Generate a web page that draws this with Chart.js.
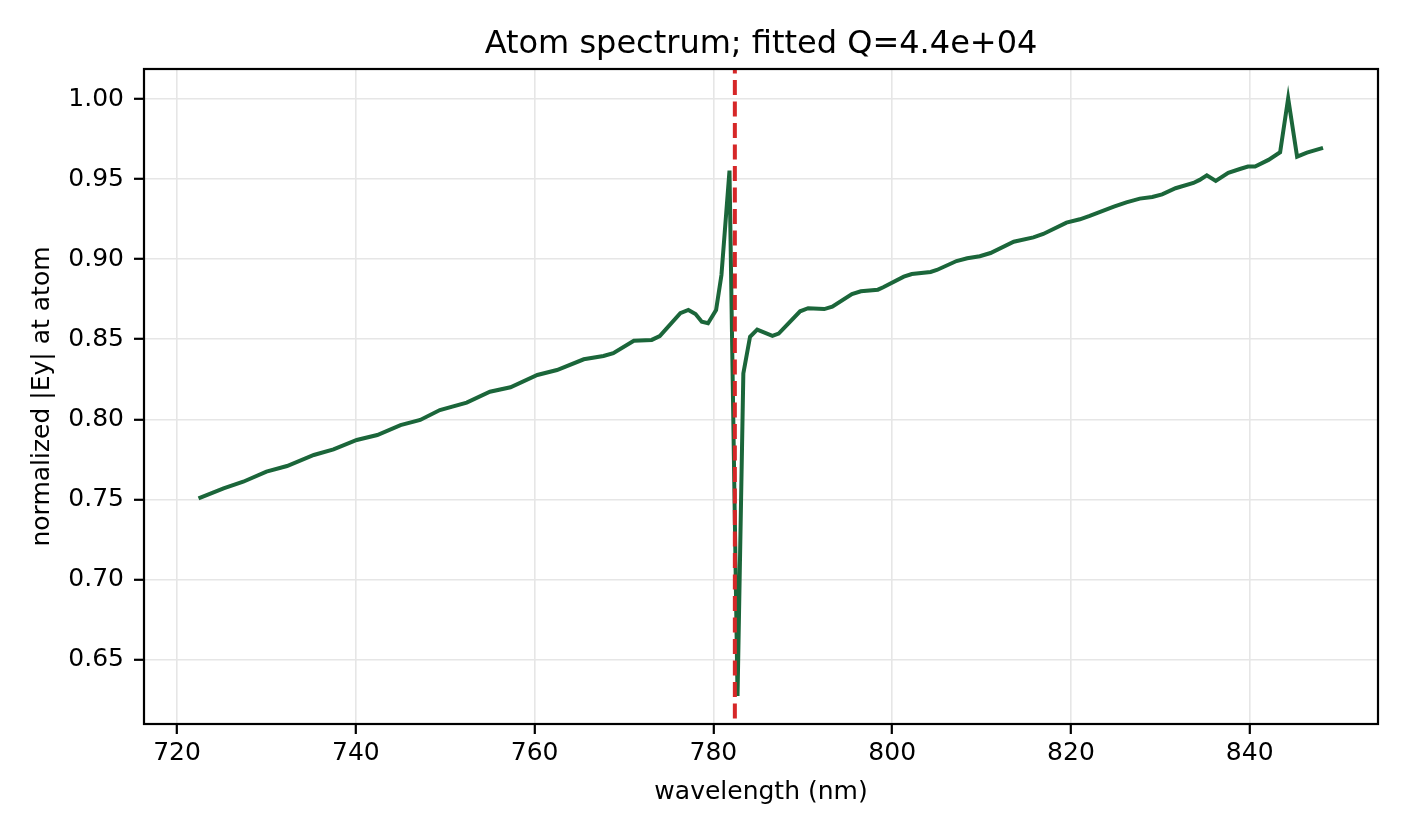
<!DOCTYPE html>
<html>
<head>
<meta charset="utf-8">
<script src="https://cdn.jsdelivr.net/npm/chart.js@4.4.1/dist/chart.umd.min.js"></script>
<style>
  html, body { margin: 0; padding: 0; background: #fff; }
  canvas { display: block; }
</style>
</head>
<body>
<canvas id="chart" width="1406" height="836"></canvas>
<script>
/* DATA */
const wavelengths = [
  722.4, 725.2, 727.4, 730.0, 732.3, 735.3, 737.5, 740.1, 742.4, 745.0,
  747.2, 749.4, 752.4, 755.0, 757.3, 760.3, 762.5, 765.5, 767.7, 768.8,
  771.1, 773.1, 774.0, 776.3, 777.2, 778.0, 778.7, 779.4, 780.3, 780.9,
  781.8, 782.7, 783.35, 784.1, 784.9, 786.6, 787.3, 789.7, 790.6, 792.4,
  793.3, 795.5, 796.5, 798.4, 799.0, 801.3, 802.2, 804.3, 805.0, 807.2,
  808.4, 809.8, 811.0, 813.6, 815.8, 816.9, 819.5, 821.0, 822.1, 824.8,
  826.2, 827.7, 829.1, 830.2, 831.7, 833.7, 834.4, 835.2, 836.2, 837.6,
  838.9, 839.8, 840.6, 842.1, 843.4, 844.3, 845.3, 846.4, 848.2
];
const fieldValues = [
  0.7506, 0.7569, 0.7610, 0.7673, 0.7708, 0.7777, 0.7812, 0.7871, 0.7902, 0.7964,
  0.7996, 0.8058, 0.8104, 0.8172, 0.8200, 0.8277, 0.8308, 0.8375, 0.8396, 0.8413,
  0.8491, 0.8496, 0.8520, 0.8663, 0.8683, 0.8658, 0.8610, 0.8600, 0.8683, 0.8902,
  0.9554, 0.6271, 0.8287, 0.8516, 0.8560, 0.8521, 0.8536, 0.8675, 0.8694, 0.8689,
  0.8704, 0.8783, 0.8800, 0.8810, 0.8825, 0.8891, 0.8908, 0.8921, 0.8933, 0.8989,
  0.9006, 0.9019, 0.9039, 0.9110, 0.9137, 0.9158, 0.9229, 0.9250, 0.9271, 0.9329,
  0.9356, 0.9379, 0.9389, 0.9406, 0.9444, 0.9477, 0.9496, 0.9525, 0.9490, 0.9540,
  0.9564, 0.9579, 0.9579, 0.9621, 0.9669, 1.0006, 0.9641, 0.9666, 0.9696
];
const resonanceNm = 782.4;
const xTicks = [720, 740, 760, 780, 800, 820, 840];
const yTicks = [0.65, 0.70, 0.75, 0.80, 0.85, 0.90, 0.95, 1.00];
const xRange = [716.3, 854.35];
const yRange = [0.6096, 1.0189];
const titleText = "Atom spectrum; fitted Q=4.4e+04";

const spectrum = wavelengths.map((w, i) => ({ x: w, y: fieldValues[i] }));
const marker = [{ x: resonanceNm, y: yRange[0] - 0.01 }, { x: resonanceNm, y: yRange[1] + 0.01 }];

const font = "'DejaVu Sans', sans-serif";

/* FRAME round the plot area + title centred over it */
const frame = {
  id: "frame",
  afterDatasetsDraw(chart){
    const { ctx, chartArea: a } = chart;
    ctx.save();
    ctx.strokeStyle = "#000";
    ctx.lineWidth = 2.2;
    ctx.strokeRect(a.left, a.top, a.right - a.left, a.bottom - a.top);
    ctx.fillStyle = "#000";
    ctx.font = "32px " + font;
    ctx.textAlign = "center";
    ctx.textBaseline = "alphabetic";
    ctx.fillText(titleText, (a.left + a.right) / 2, 53);
    ctx.restore();
  }
};

const grid = { color: "#e6e6e6", lineWidth: 1.6, tickColor: "#000", tickWidth: 2.2, tickLength: 10 };

new Chart(document.getElementById("chart"), {
  type: "line",
  data: {
    datasets: [
      { data: marker, borderColor: "#d62728", borderWidth: 4, borderDash: [15, 6.5], pointRadius: 0, order: 0 },
      { data: spectrum, borderColor: "#1b663a", borderWidth: 4, pointRadius: 0, tension: 0, order: 1 }
    ]
  },
  options: {
    responsive: false,
    animation: false,
    devicePixelRatio: 1,
    layout: { padding: { top: 69, right: 28, bottom: 0, left: 0 } },
    plugins: {
      legend: { display: false },
      tooltip: { enabled: false },
      title: { display: false }
    },
    scales: {
      x: {
        type: "linear",
        min: xRange[0],
        max: xRange[1],
        grid: grid,
        border: { display: false },
        afterBuildTicks: s => { s.ticks = xTicks.map(v => ({ value: v })); },
        afterFit: s => { s.height = 112; },
        ticks: { color: "#000", font: { family: font, size: 25 }, padding: 4, maxRotation: 0,
                 callback: v => String(v) },
        title: { display: true, text: "wavelength (nm)", color: "#000",
                 font: { family: font, size: 25 }, padding: { top: 0, bottom: 29 } }
      },
      y: {
        type: "linear",
        min: yRange[0],
        max: yRange[1],
        grid: grid,
        border: { display: false },
        afterBuildTicks: s => { s.ticks = yTicks.map(v => ({ value: v })); },
        afterFit: s => { s.width = 144; },
        ticks: { color: "#000", font: { family: font, size: 25 }, padding: 10,
                 callback: v => v.toFixed(2) },
        title: { display: true, text: "normalized |Ey| at atom", color: "#000",
                 font: { family: font, size: 25 }, padding: { top: 27, bottom: 0 } }
      }
    }
  },
  plugins: [frame]
});
</script>
</body>
</html>
